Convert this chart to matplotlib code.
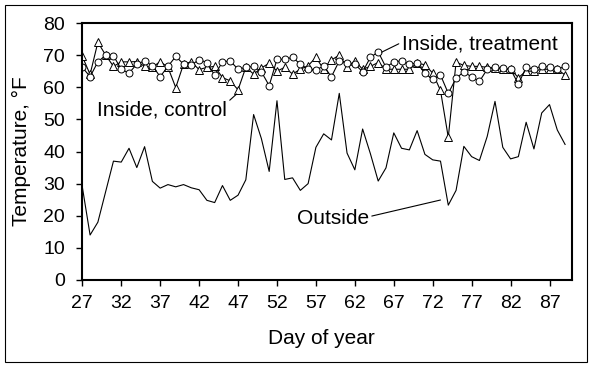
import numpy as np
import matplotlib
matplotlib.use("Agg")
import matplotlib.pyplot as plt
from matplotlib.patches import Rectangle

plt.rcParams['font.family'] = ['Liberation Sans', 'DejaVu Sans']

# day of year
days = np.arange(27, 90)

# outside air temperature, F
outside = [29, 14, 18, 27.5, 37, 36.7, 41, 35, 41.5, 30.7,
           28.6, 29.7, 29, 29.7, 28.7, 28.1, 24.8, 24.1, 29.4, 24.8,
           26.4, 31.2, 51.5, 44, 33.8, 55.8, 31.3, 31.8, 27.9, 30,
           41.3, 45.5, 43.6, 58.1, 39.5, 34.3, 47, 39.3, 30.8, 34.9,
           45.8, 41, 40.5, 46.5, 39.1, 37.4, 37, 23.3, 27.9, 41.6,
           38.4, 37.2, 44.7, 55.6, 41.3, 37.7, 38.4, 49.1, 40.8, 52,
           54.6, 46.7, 42.2]

# inside, treatment (circles)
treatment = [66.2, 63.3, 67.9, 70, 69.8, 65.6, 64.4, 67.2, 68.2, 66.7,
             63.3, 66.5, 69.6, 67.2, 66.9, 68.6, 67.7, 63.8, 67.9, 68.2,
             65.6, 66.2, 66.5, 64.8, 60.5, 68.7, 68.7, 69.3, 67.2, 65.6,
             65.5, 66.5, 63.3, 68.2, 67.7, 67.2, 64.8, 69.3, 71, 66.2,
             67.9, 68.2, 67.2, 67.5, 64.3, 62.5, 63.8, 58.1, 62.8, 64.8,
             63.2, 61.8, 65.6, 66.2, 66, 65.6, 61, 66.2, 65.6, 66.7,
             66.2, 65.6, 66.5]

# inside, control (triangles)
control = [69.6, 64, 74, 70, 66.5, 67.9, 67.9, 68, 66.5, 66.2,
           68, 66.2, 59.9, 67.2, 67.9, 65.5, 66.2, 66.5, 63, 62,
           59.2, 66.2, 64.1, 66, 67.5, 65, 66.2, 64.1, 65.6, 66.7,
           69.3, 65.6, 68.5, 70, 66.2, 68.2, 65.6, 66.5, 67.7, 65.6,
           65.6, 65.6, 65.6, 67.5, 67, 64.4, 59, 44.4, 67.8, 66.8,
           66.5, 66.5, 66.2, 66, 65.6, 65.6, 63, 65, 65, 65.6,
           65.6, 65.6, 63.8]

xticks = np.arange(27, 88, 5)
yticks = np.arange(0, 81, 10)

fig = plt.figure(figsize=(5.93, 3.68), dpi=100)
ax = fig.add_axes([82.3 / 593, 1 - 280 / 368, 489.4 / 593, 257 / 368])

ax.plot(days, outside, "k-", lw=0.8)
ax.plot(days, control, "k-", lw=0.8, marker="^", ms=5.5,
        mfc="white", mec="black", mew=0.7)
ax.plot(days, treatment, "k-", lw=0.8, marker="o", ms=5,
        mfc="white", mec="black", mew=0.7)

ax.set_xlim(27, 89.85)
ax.set_ylim(0, 80)
ax.set_xticks(xticks)
ax.set_yticks(yticks)
ax.tick_params(labelsize=14, direction="out", length=4.5, width=1, colors="black")
ax.tick_params(axis="y", pad=8)
ax.tick_params(axis="x", pad=6)
for s in ax.spines.values():
    s.set_linewidth(1.5)

ax.set_xlabel("Day of year", fontsize=15)
ax.set_ylabel("Temperature, \u00b0F", fontsize=15)
ax.xaxis.set_label_coords(0.488, -0.19)
ax.yaxis.set_label_coords(-0.105, 0.5)

line = dict(arrowstyle="-", color="black", lw=0.8, shrinkA=0, shrinkB=0)
ax.annotate("Inside, treatment", xy=(65.43, 70.9), xytext=(68.0, 71.65),
            fontsize=15, ha="left", va="baseline",
            arrowprops=dict(line, relpos=(0, 0.6)))
ax.annotate("Inside, control", xy=(46.82, 57.9), xytext=(28.9, 51.1),
            fontsize=15, ha="left", va="baseline",
            arrowprops=dict(line, relpos=(1, 0.9)))
ax.annotate("Outside", xy=(73.0, 24.9), xytext=(54.56, 17.4),
            fontsize=15, ha="left", va="baseline",
            arrowprops=dict(line, relpos=(1, 0.6)))

fig.patches.append(Rectangle((5 / 593, 1 - 362 / 368), 582 / 593, 357 / 368,
                             transform=fig.transFigure, fill=False,
                             edgecolor="black", lw=0.8))

fig.savefig("out.png", dpi=100)
